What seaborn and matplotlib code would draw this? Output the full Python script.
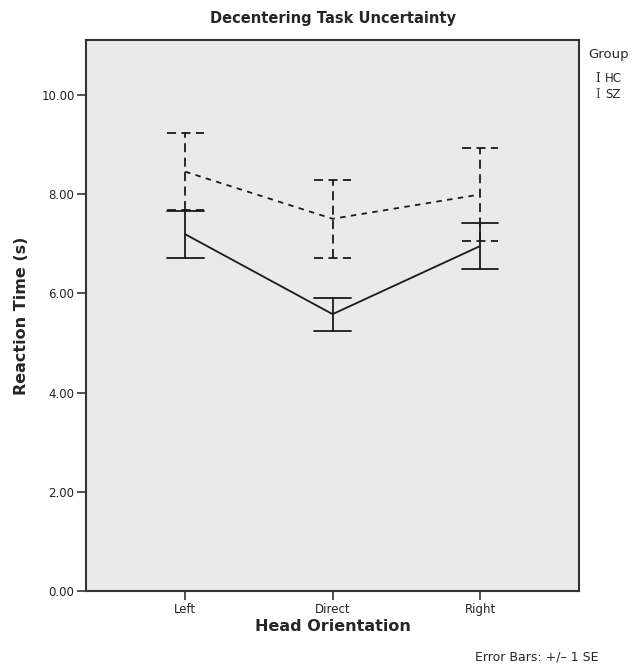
import matplotlib
matplotlib.use("Agg")
import matplotlib.pyplot as plt
import pandas as pd
import seaborn as sns
from matplotlib.ticker import FormatStrFormatter

# values
orientations = ["Left", "Direct", "Right"]
groups = ["HC", "SZ"]
hc_mean = [7.19, 5.58, 6.95]
hc_se = [0.475, 0.335, 0.47]
sz_mean = [8.45, 7.50, 7.99]
sz_se = [0.78, 0.79, 0.945]

# long table: one row at mean-SE and one at mean+SE, so the mean is the estimate
# and min/max give the +/- 1 SE bar
rows = []
for grp, means, ses in [("HC", hc_mean, hc_se), ("SZ", sz_mean, sz_se)]:
    for o, m, s in zip(orientations, means, ses):
        rows.append({"group": grp, "orientation": o, "rt": m - s})
        rows.append({"group": grp, "orientation": o, "rt": m + s})
df = pd.DataFrame(rows)

sns.set_theme(style="white")
plt.rcParams["font.family"] = ["DejaVu Sans"]

fig = plt.figure(figsize=(6.37, 6.68), dpi=100)
ax = fig.add_axes([0.1356, 0.115, 0.773, 0.825])
ax.set_facecolor("#eaeaea")

styles = {"HC": ("-", "-"), "SZ": ((0, (3, 3)), (0, (5, 3)))}
for grp in groups:
    line_ls, err_ls = styles[grp]
    sns.pointplot(
        data=df[df["group"] == grp],
        x="orientation",
        y="rt",
        order=orientations,
        estimator="mean",
        errorbar=lambda v: (v.min(), v.max()),
        capsize=0.25,
        color="#1a1a1a",
        marker="",
        linestyle=line_ls,
        linewidth=1.3,
        err_kws={"linestyle": err_ls, "linewidth": 1.3},
        ax=ax,
    )

ax.set_xlim(-0.67, 2.67)
ax.set_ylim(0, 11.1)
ax.set_yticks([0, 2, 4, 6, 8, 10])
ax.yaxis.set_major_formatter(FormatStrFormatter("%.2f"))

for sp in ax.spines.values():
    sp.set_visible(True)
    sp.set_color("#333333")
    sp.set_linewidth(1.5)

ax.tick_params(axis="both", direction="out", length=6.5, width=1.2, color="#333333",
               labelsize=8.5, labelcolor="#222222", left=True, bottom=True, pad=2)
ax.set_xlabel("Head Orientation", fontsize=11.5, fontweight="bold", labelpad=2)
ax.set_ylabel("Reaction Time (s)", fontsize=11.5, fontweight="bold", labelpad=9)
ax.set_title("Decentering Task Uncertainty", fontsize=10.5, fontweight="bold", pad=12)

# legend in the SPSS style, to the right of the plot
fig.text(0.923, 0.918, "Group", fontsize=9.5, ha="left", va="center")
fig.text(0.939, 0.882, "I", family="DejaVu Serif", fontsize=8.5, ha="center", va="center")
fig.text(0.950, 0.882, "HC", fontsize=8.5, ha="left", va="center")
fig.text(0.939, 0.858, "I", family="DejaVu Serif", fontsize=8.5, ha="center", va="center",
         color="#555555")
fig.text(0.950, 0.858, "SZ", fontsize=8.5, ha="left", va="center")

fig.text(0.94, 0.017, "Error Bars: +/\u2013 1 SE", fontsize=9, ha="right", va="center")

fig.savefig("out.png", dpi=100)
